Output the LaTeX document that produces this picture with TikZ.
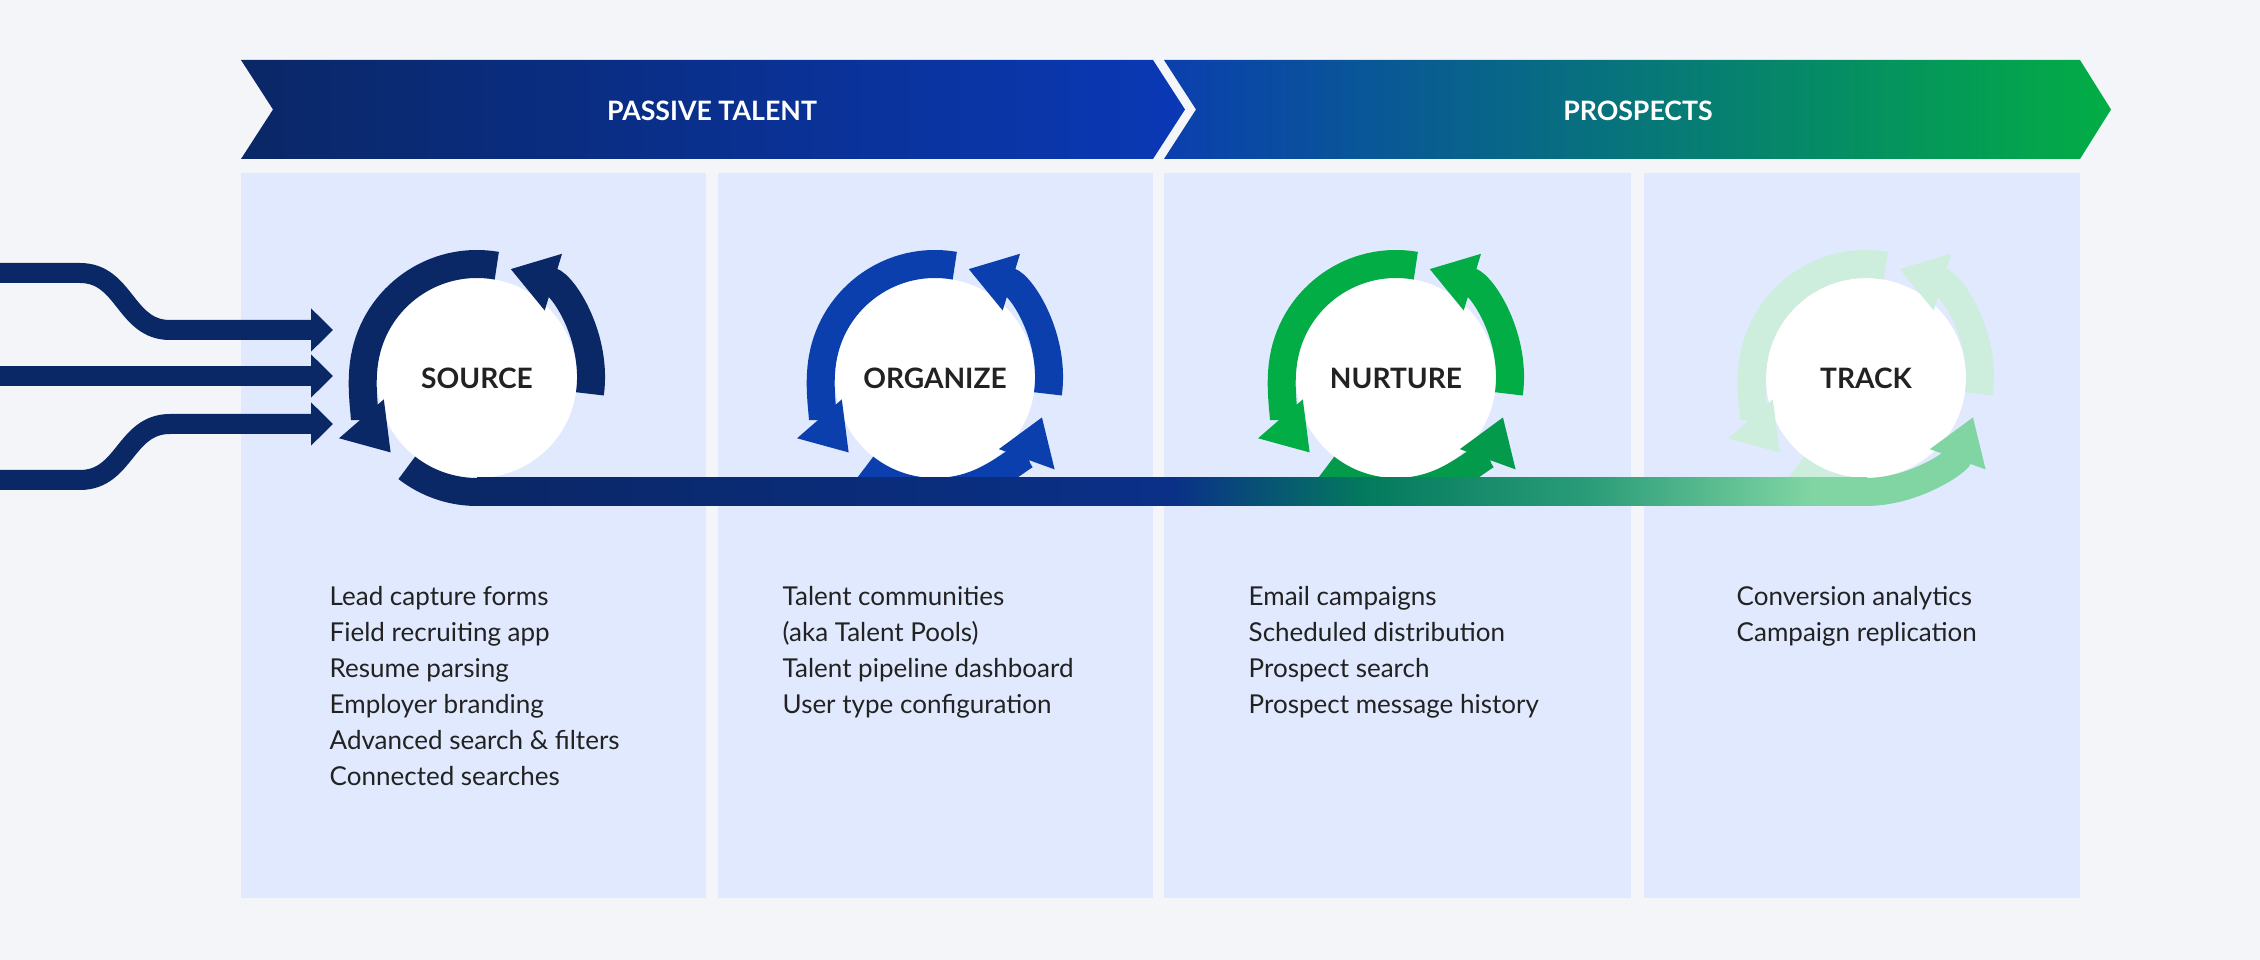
\documentclass[tikz,border=0pt]{standalone}
\usepackage{fontspec}
\setmainfont{Lato}
\usetikzlibrary{arrows.meta}
\definecolor{bg}{HTML}{F4F5F8}
\definecolor{panel}{HTML}{E0E9FD}
\definecolor{navy}{HTML}{0A2766}
\definecolor{navyb}{HTML}{0A3088}
\definecolor{oblue}{HTML}{0B3FAE}
\definecolor{ngreen}{HTML}{03AD45}
\definecolor{ndark}{HTML}{049A4C}
\definecolor{tlight}{HTML}{CDEEDC}
\definecolor{tmid}{HTML}{80D5A3}
\definecolor{teal}{HTML}{047A5E}
\definecolor{tealb}{HTML}{2A9C78}
\definecolor{txt}{HTML}{222222}
\pgfdeclarehorizontalshading{barshade}{100bp}{color(0bp)=(navy); color(25bp)=(navy); color(50bp)=(navyb); color(57bp)=(teal); color(65bp)=(tealb); color(73bp)=(tmid); color(100bp)=(tmid)}
\tikzset{
  ring/.style={line width=2.8mm},
  tip/.style={-{Triangle[length=4.5mm,width=5.6mm]}},
  inarrow/.style={draw=navy,line width=2mm,-{Triangle[length=2.2mm,width=4.2mm]}},
  hub/.style={circle,fill=white,minimum size=20mm,inner sep=0pt,font=\fontsize{8}{9}\selectfont\bfseries,text=txt},
  list/.style={anchor=north west,align=left,inner sep=0pt,text=txt,font=\fontsize{7.4}{10.24}\selectfont},
  banner/.style={font=\fontsize{7.6}{9}\selectfont\bfseries,text=white}
}
\begin{document}
\begin{tikzpicture}[x=0.1mm,y=0.1mm]
\fill[bg] (0,0) rectangle (2260,960);
\useasboundingbox (0,0) rectangle (2260,960);
% banners
\shade[left color=navy,right color=oblue!90!blue] (241,900)--(1153,900)--(1185,850.5)--(1153,801)--(241,801)--(273,850.5)--cycle;
\shade[left color=oblue,right color=ngreen] (1164,900)--(2080,900)--(2111,850.5)--(2080,801)--(1164,801)--(1196,850.5)--cycle;
\node[banner] (pt) at (712,849) {PASSIVE TALENT};
\node[banner] (pr) at (1638,849) {PROSPECTS};
% panels
\fill[panel] (241,62) rectangle (706,787);
\fill[panel] (718,62) rectangle (1153,787);
\fill[panel] (1164,62) rectangle (1631,787);
\fill[panel] (1644,62) rectangle (2080,787);
% hubs
\node[hub] (src) at (477,582) {SOURCE};
\node[hub] (org) at (935,582) {ORGANIZE};
\node[hub] (nur) at (1396,582) {NURTURE};
\node[hub] (trk) at (1866,582) {TRACK};
% source ring
\draw[ring,navy,tip] (src.center) ++(80:114) arc[start angle=80,end angle=221,radius=114];
\draw[ring,navy,tip] (src.center) ++(-8:114) arc[start angle=-8,end angle=73,radius=114];
\draw[ring,navy] (src.center) ++(232:114) arc[start angle=232,end angle=271,radius=114];
% organize ring
\draw[ring,oblue,tip] (org.center) ++(80:114) arc[start angle=80,end angle=221,radius=114];
\draw[ring,oblue,tip] (org.center) ++(-8:114) arc[start angle=-8,end angle=73,radius=114];
\draw[ring,oblue,tip] (org.center) ++(232:114) arc[start angle=232,end angle=340,radius=114];
% nurture ring
\draw[ring,ngreen,tip] (nur.center) ++(80:114) arc[start angle=80,end angle=221,radius=114];
\draw[ring,ngreen,tip] (nur.center) ++(-8:114) arc[start angle=-8,end angle=73,radius=114];
\draw[ring,ndark,tip] (nur.center) ++(232:114) arc[start angle=232,end angle=340,radius=114];
% track ring
\draw[ring,tlight,tip] (trk.center) ++(80:114) arc[start angle=80,end angle=221,radius=114];
\draw[ring,tlight,tip] (trk.center) ++(-8:114) arc[start angle=-8,end angle=73,radius=114];
\draw[ring,tlight] (trk.center) ++(232:114) arc[start angle=232,end angle=272,radius=114];
% bar
\shade[shading=barshade] (477,454) rectangle (1867,482);
\draw[ring,tmid,tip] (trk.center) ++(270:114) arc[start angle=270,end angle=340,radius=114];
% input arrows
\coordinate (i1) at (0,687); \coordinate (e1) at (333,630);
\coordinate (i2) at (0,584); \coordinate (e2) at (333,584);
\coordinate (i3) at (0,480); \coordinate (e3) at (333,536);
\draw[inarrow] (i1) -- (80,687) .. controls (125,687) and (125,630) .. (170,630) -- (e1);
\draw[inarrow] (i2) -- (e2);
\draw[inarrow] (i3) -- (80,480) .. controls (125,480) and (125,536) .. (170,536) -- (e3);
% lists
\node[list] (l1) at (329,374) {Lead capture forms\\Field recruiting app\\Resume parsing\\Employer branding\\Advanced search \& filters\\Connected searches};
\node[list] (l2) at (782,374) {Talent communities\\(aka Talent Pools)\\Talent pipeline dashboard\\User type configuration};
\node[list] (l3) at (1248,374) {Email campaigns\\Scheduled distribution\\Prospect search\\Prospect message history};
\node[list] (l4) at (1736,374) {Conversion analytics\\Campaign replication};
\end{tikzpicture}
\end{document}
